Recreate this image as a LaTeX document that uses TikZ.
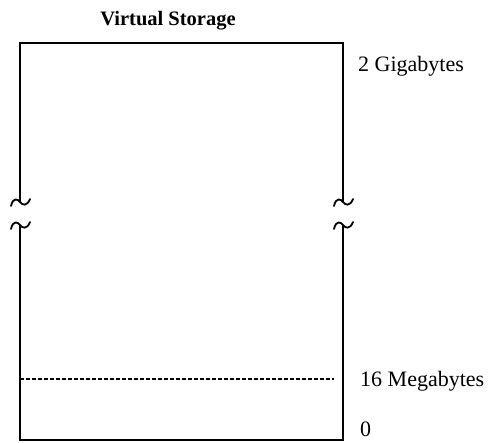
\documentclass[tikz,border=0pt]{standalone}
\usepackage{fontspec}
\setmainfont{Liberation Serif}
\usetikzlibrary{positioning}

\begin{document}
\begin{tikzpicture}[
  x=1pt, y=-1pt,
  wall/.style={draw, line width=1.8pt, line cap=rect},
  boundary/.style={draw, line width=1.2pt, dash pattern=on 4pt off 2pt},
  brk/.style={draw, line width=1.8pt, line cap=round},
  lbl/.style={anchor=base west, inner sep=0pt, font=\fontsize{22}{26}\selectfont}
]
  \useasboundingbox (0,0) rectangle (490,443);

  % corners of the storage column
  \coordinate (tl) at (20,43);
  \coordinate (tr) at (343,43);
  \coordinate (bl) at (20,440);
  \coordinate (br) at (343,440);

  \node[anchor=base, inner sep=0pt, font=\fontsize{20.5}{24}\selectfont\bfseries] (title) at (168,26) {Virtual Storage};

  % outline, broken on both sides
  \draw[wall] (20,201) -- (tl) -- (tr) -- (343,201);
  \draw[wall] (20,226) -- (bl) -- (br) -- (343,226);
  \foreach \x in {20,343} {
    \draw[brk] (\x-9,206) .. controls (\x-7,197) and (\x-2,199) .. (\x,202)
               .. controls (\x+2,205) and (\x+7,207) .. (\x+10,199);
    \draw[brk] (\x-9,229) .. controls (\x-7,220) and (\x-2,222) .. (\x,225)
               .. controls (\x+2,228) and (\x+7,230) .. (\x+10,222);
  }

  % 16 MB line
  \coordinate (lim) at (20,379);
  \coordinate (limend) at (334,379);
  \draw[boundary] (lim) -- (limend);

  \node[lbl] (top) at (358,72) {2 Gigabytes};
  \node[lbl] (mid) at (360,387) {16 Megabytes};
  \node[lbl] (zero) at (360,436) {0};
\end{tikzpicture}
\end{document}
